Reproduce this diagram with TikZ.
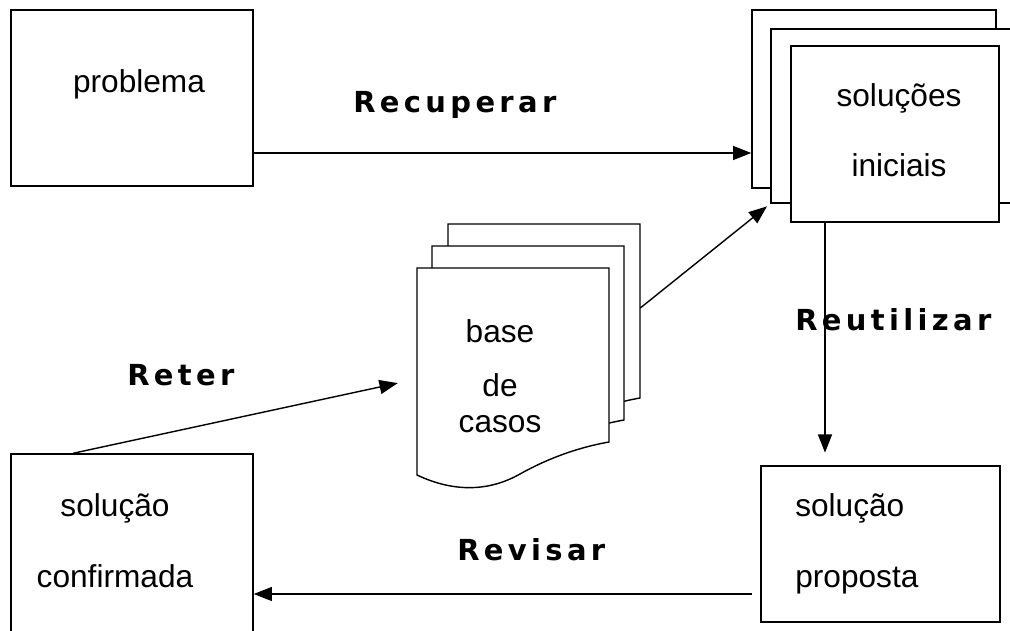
\documentclass[tikz,border=0pt]{standalone}
\usepackage{fontspec}
\setmainfont{Liberation Sans}
\newfontfamily\rotulofont{DejaVu Sans}[LetterSpace=15]
\usetikzlibrary{arrows.meta,fit}

\begin{document}
\begin{tikzpicture}[x=0.025cm,y=-0.025cm,
	caixa/.style={draw, line width=1pt, fill=white, inner sep=0pt},
	seta/.style={line width=1pt, -{Triangle[length=13pt,width=10pt]}},
	texto/.style={font=\fontsize{22.5}{49.8}\selectfont, inner sep=0pt, align=center, anchor=base},
	rotulo/.style={font=\rotulofont\bfseries\fontsize{20.6}{24}\selectfont, inner sep=0pt, anchor=base west}]
	\useasboundingbox (0,0) rectangle (1010,630);
	\clip (0,0) rectangle (1010,630);
	\fill[white] (0,0) rectangle (1010,630);
	
	% Caixas
	\node[caixa, fit={(11,10) (253,186)}] (prob) {};
	\node[caixa, fit={(752,10) (996,188)}] (sol1) {};
	\node[caixa, fit={(771,29) (1015,203)}] (sol2) {};
	\node[caixa, fit={(791,46) (999,222)}] (sol3) {};
	\node[caixa, fit={(761,466) (1000,622)}] (prop) {};
	\node[caixa, fit={(11,454) (253,640)}] (conf) {};
	
	% Base de casos (tres folhas)
	\foreach \dx/\dy in {448/224, 432/246, 417/268}{
		\filldraw[line width=1pt, fill=white, shift={(\dx,\dy)}] (0,0) -- (192,0) -- (192,174)
			.. controls (158,180) and (128,192) .. (103,206)
			.. controls (73,223) and (38,225) .. (0,207) -- cycle;
	}
	\node[fit={(417,224) (640,488)}, inner sep=0pt] (base) {};
	
	% Textos (ancora = linha de base da ultima linha)
	\node[texto] (tprob) at (139,93) {problema};
	\node[texto] (tsol) at (899,177) {soluções\\iniciais};
	\node[texto, font=\fontsize{22.5}{25}\selectfont] (tbase) at (500,432) {base\\[14pt]de\\casos};
	\node[texto] (tconf) at (115,587) {solução\\confirmada};
	\node[texto, anchor=base west, align=left] (tprop) at (795,587) {solução\\proposta};
	
	% Rotulos das fases
	\node[rotulo] (lrec) at (353,113) {Recuperar};
	\node[rotulo] (lreu) at (795,330) {Reutilizar};
	\node[rotulo] (lret) at (127,385) {Reter};
	\node[rotulo] (lrev) at (457,560) {Revisar};
	
	% Setas
	\draw[seta] (prob.east |- 0,153) -- (sol1.west |- 0,153);
	\draw[seta, shorten >=3pt] (base.east |- 0,308) -- (sol2.south west);
	\draw[seta, shorten >=9pt] (sol3.south -| 825,0) -- (prop.north -| 825,0);
	\draw[seta, shorten <=6pt] (prop.west |- 0,594) -- (conf.east |- 0,594);
	\draw[seta, shorten >=13.8pt] (conf.north -| 73,0) -- (base.west |- 0,379);
\end{tikzpicture}
\end{document}
